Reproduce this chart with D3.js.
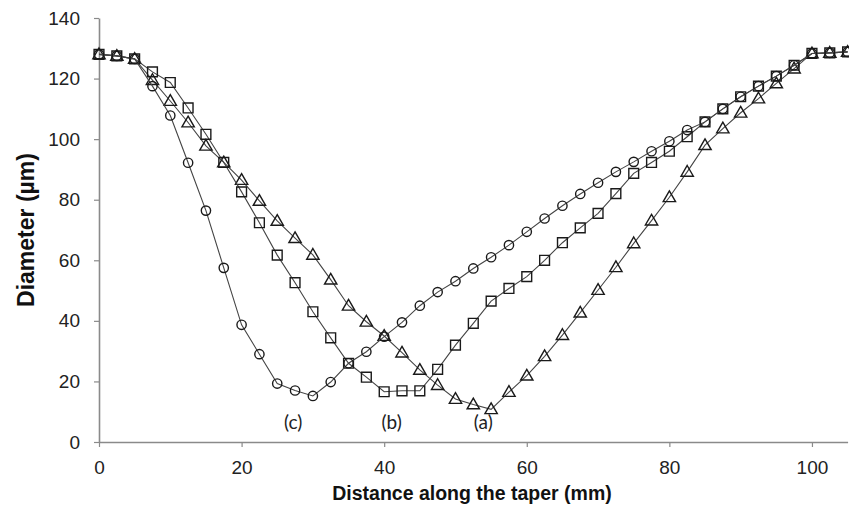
<!DOCTYPE html>
<html>
<head>
<meta charset="utf-8">
<script src="https://cdn.jsdelivr.net/npm/d3@7"></script>
<style>
  html, body { margin: 0; padding: 0; background: #fff; }
  svg { display: block; }
</style>
</head>
<body>
<svg id="chart" width="849" height="522"></svg>
<script>
// Distance along the taper (mm) for each measurement
const distance = [0, 2.5, 5, 7.5, 10, 12.5, 15, 17.5, 20, 22.5, 25, 27.5, 30, 32.5, 35, 37.5, 40, 42.5, 45, 47.5,
  50, 52.5, 55, 57.5, 60, 62.5, 65, 67.5, 70, 72.5, 75, 77.5, 80, 82.5, 85, 87.5, 90, 92.5, 95, 97.5, 100, 102.5, 105];

// Measured diameters (µm), one list per taper profile
const taperA = [128, 127.5, 126.5, 119.5, 112.6, 105.5, 97.8, 92.3, 86.5, 79.6, 73, 67.3, 61.8, 53.6, 45, 39.7, 35, 29.5, 23.8, 18.8,
  14.2, 12.4, 10.8, 16.5, 21.9, 28.3, 35.3, 42.7, 50.2, 57.7, 65.6, 73.1, 80.8, 89.2, 98, 103.5, 108.7, 113.4, 118.4, 123.3, 128.3, 128.5, 128.8];
const taperB = [128, 127.5, 126.5, 122.2, 118.7, 110.3, 101.6, 92.3, 82.6, 72.4, 61.7, 52.6, 43, 34.4, 26, 21.4, 16.6, 16.9, 16.9, 24,
  32, 39.2, 46.5, 50.7, 54.6, 60, 65.8, 70.7, 75.5, 82, 88.7, 92.3, 96, 100.8, 105.7, 110, 114, 117.5, 120.8, 124.4, 128.3, 128.5, 128.8];
const taperC = [128, 127.5, 126.5, 117.5, 107.8, 92.2, 76.4, 57.5, 38.7, 29, 19.3, 17, 15.2, 19.8, 26, 29.8, 34.8, 39.5, 45, 49.5,
  53.1, 57.3, 61, 65, 69.4, 73.8, 78, 81.9, 85.6, 89.2, 92.5, 96, 99.3, 103, 105.7, 110, 114, 117.5, 120.8, 124.4, 128.3, 128.5, 128.8];

const xTicks = [0, 20, 40, 60, 80, 100];
const yTicks = [0, 20, 40, 60, 80, 100, 120, 140];

// Curve labels with the distance (mm) and diameter (µm) they sit at
const curveLabels = ["(c)", "(b)", "(a)"];
const curveLabelX = [27.25, 41.05, 53.9];
const curveLabelY = [4.2, 4.2, 4.2];

const series = [
  { values: taperA, marker: "triangle" },
  { values: taperB, marker: "square" },
  { values: taperC, marker: "circle" }
];

const svg = d3.select("#chart");
const x = d3.scaleLinear().domain([0, 105]).range([99, 847.6]);
const y = d3.scaleLinear().domain([0, 140]).range([442, 18]);

const axisColor = "#8a8a8a";
const textColor = "#222";

// Axes
const xAxis = svg.append("g")
  .attr("transform", `translate(0,${y(0)})`)
  .call(d3.axisBottom(x).tickValues(xTicks).tickSize(5).tickPadding(14).tickSizeOuter(0));
const yAxis = svg.append("g")
  .attr("transform", `translate(${x(0)},0)`)
  .call(d3.axisLeft(y).tickValues(yTicks).tickSize(5).tickPadding(14).tickSizeOuter(0));

[xAxis, yAxis].forEach(g => {
  g.select(".domain").attr("stroke", axisColor).attr("stroke-width", 1.6);
  g.selectAll(".tick line").attr("stroke", axisColor).attr("stroke-width", 1.2);
  g.selectAll(".tick text")
    .attr("fill", textColor)
    .style("font-family", "'Liberation Sans', Arial, sans-serif")
    .style("font-size", "19px");
});

// Axis titles
svg.append("text")
  .attr("x", 472).attr("y", 500)
  .attr("text-anchor", "middle")
  .attr("fill", "#111")
  .style("font-family", "'Liberation Sans', Arial, sans-serif")
  .style("font-weight", "bold")
  .style("font-size", "19.5px")
  .text("Distance along the taper (mm)");

svg.append("text")
  .attr("transform", "translate(34,230) rotate(-90)")
  .attr("text-anchor", "middle")
  .attr("fill", "#111")
  .style("font-family", "'Liberation Sans', Arial, sans-serif")
  .style("font-weight", "bold")
  .style("font-size", "23px")
  .text("Diameter (µm)");

// Lines and markers
const line = d3.line().x((d, i) => x(distance[i])).y(d => y(d));
const symbolType = { triangle: d3.symbolTriangle, square: d3.symbolSquare, circle: d3.symbolCircle };
const symbolSize = { triangle: 66, square: 96, circle: 68 };

series.forEach(s => {
  svg.append("path")
    .datum(s.values)
    .attr("d", line)
    .attr("fill", "none")
    .attr("stroke", "#444")
    .attr("stroke-width", 1.1);

  const sym = d3.symbol().type(symbolType[s.marker]).size(symbolSize[s.marker]);
  svg.append("g").selectAll("path")
    .data(s.values)
    .join("path")
    .attr("d", sym)
    .attr("transform", (d, i) => `translate(${x(distance[i])},${y(d) + (s.marker === "triangle" ? 0.8 : 0)})`)
    .attr("fill", "none")
    .attr("stroke", "#1a1a1a")
    .attr("stroke-width", 1.4);
});

// Curve labels
svg.append("g").selectAll("text")
  .data(curveLabels)
  .join("text")
  .attr("x", (d, i) => x(curveLabelX[i]))
  .attr("y", (d, i) => y(curveLabelY[i]))
  .attr("text-anchor", "middle")
  .attr("fill", "#222")
  .style("font-family", "Lato, 'Open Sans', sans-serif")
  .style("font-size", "19px")
  .text(d => d);
</script>
</body>
</html>
